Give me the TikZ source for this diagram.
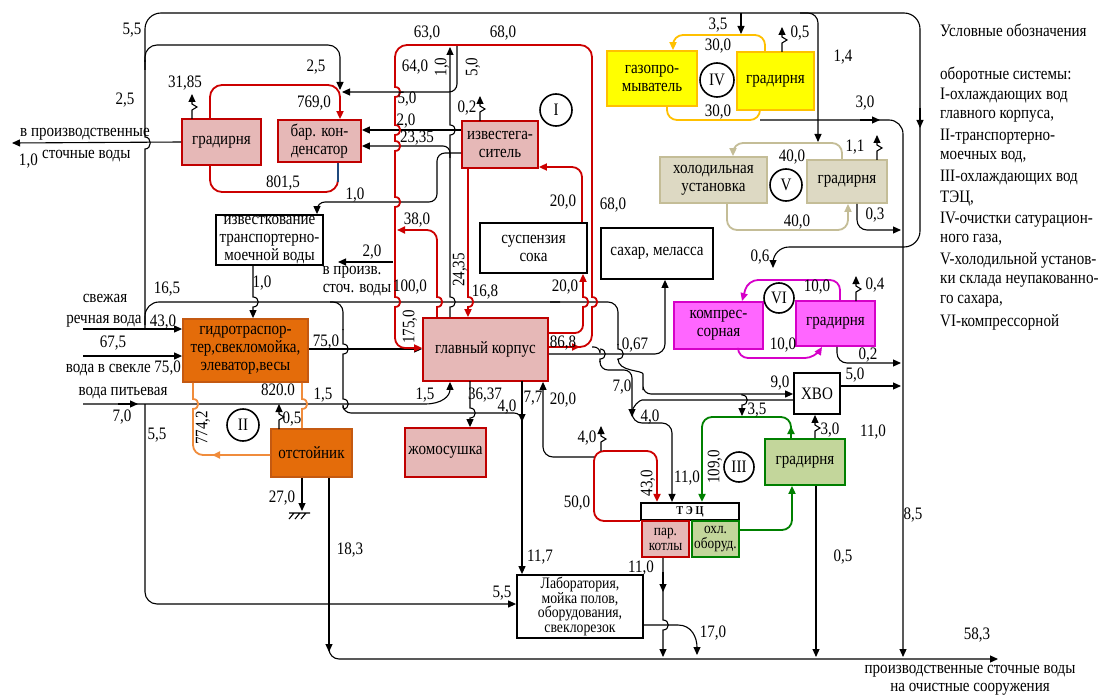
\documentclass[tikz,border=0pt]{standalone}
\usepackage{fontspec}
\setmainfont{Liberation Serif}[FakeStretch=0.86]
\usetikzlibrary{arrows.meta}
\definecolor{pinkF}{RGB}{230,184,183}
\definecolor{redB}{RGB}{192,0,0}
\definecolor{redL}{RGB}{204,0,0}
\definecolor{orF}{RGB}{228,108,10}
\definecolor{orB}{RGB}{196,89,17}
\definecolor{orL}{RGB}{240,140,60}
\definecolor{yelF}{RGB}{255,255,0}
\definecolor{yelB}{RGB}{255,192,0}
\definecolor{tanF}{RGB}{221,217,195}
\definecolor{tanB}{RGB}{196,189,151}
\definecolor{magF}{RGB}{255,102,255}
\definecolor{magB}{RGB}{214,0,200}
\definecolor{grnF}{RGB}{195,214,155}
\definecolor{grnB}{RGB}{0,128,0}
\definecolor{blueL}{RGB}{31,73,125}
\newcommand\hopd[2]{-- (#1,#2-5) .. controls (#1+7,#2-5) and (#1+7,#2+5) .. (#1,#2+5)}
\newcommand\hopu[2]{-- (#1,#2+5) .. controls (#1+7,#2+5) and (#1+7,#2-5) .. (#1,#2-5)}
\newcommand\evap[2]{\draw[ln,arr] (#1,#2) -- (#1,#2-9) -- (#1+5,#2-12) -- (#1,#2-15) -- (#1,#2-25);}
\tikzset{
 ln/.style={line width=1.1pt},
 arr/.style={-{Triangle[length=8pt,width=7pt]}},
 rl/.style={line width=1.8pt,draw=redL},
 ol/.style={line width=1.8pt,draw=orL},
 yl/.style={line width=1.8pt,draw=yelB},
 tl/.style={line width=1.8pt,draw=tanB},
 ml/.style={line width=1.8pt,draw=magB},
 gl/.style={line width=1.8pt,draw=grnB},
 bx/.style={draw,line width=1.8pt,align=center,inner sep=1pt},
 pk/.style={bx,fill=pinkF,draw=redB},
 ob/.style={bx,fill=orF,draw=orB},
 yb/.style={bx,fill=yelF,draw=yelB},
 tb/.style={bx,fill=tanF,draw=tanB},
 mb/.style={bx,fill=magF,draw=magB},
 gb/.style={bx,fill=grnF,draw=grnB},
 wb/.style={bx,fill=white,draw=black},
 cc/.style={circle,draw,line width=1.6pt,minimum size=32pt,inner sep=0pt,fill=white},
 lb/.style={inner sep=0pt},
 sz/.style 2 args={minimum width=#1pt,minimum height=#2pt},
}
\begin{document}
\begin{tikzpicture}[x=1pt,y=-1pt,font=\fontsize{17.5}{18}\selectfont]
\fill[white] (0,0) rectangle (1099,695);
\useasboundingbox (0,0) rectangle (1099,695);

% ---------- boxes ----------
\node[pk,sz={79}{46}] (grad1) at (221.5,142) {градирня};
\node[pk,sz={83}{42}] (kond) at (319.5,141) {бар. кон-\\денсатор};
\node[pk,sz={76}{47}] (izv) at (500,144.5) {известега-\\ситель};
\node[cc] (cI) at (556,110) {I};
\node[yb,sz={90}{55}] (gazo) at (652,78.5) {газопро-\\мыватель};
\node[cc,minimum size=34pt] (cIV) at (717,80) {IV};
\node[yb,sz={77}{58}] (grad4) at (775.5,81) {градирня};
\node[tb,sz={107}{46}] (hol) at (713.5,180) {холодильная\\установка};
\node[cc] (cV) at (786,185) {V};
\node[tb,sz={80}{43}] (grad5) at (847,181.5) {градирня};
\node[wb,sz={107}{50},inner sep=0pt] (izvk) at (269.5,240) {известкование\\транспортерно-\\моечной воды};
\node[wb,sz={107}{50}] (susp) at (533.5,248) {суспензия\\сока};
\node[wb,sz={112}{51}] (sakh) at (657,253.5) {сахар, меласса};
\node[mb,sz={89}{47}] (komp) at (718.5,325.5) {компрес-\\сорная};
\node[cc,minimum size=30pt] (cVI) at (779,298) {VI};
\node[mb,sz={79}{45}] (grad6) at (835.5,323.5) {градирня};
\node[ob,sz={125}{63},inner sep=0pt] (gidro) at (245.5,350.5) {гидротраспор-\\тер,свекломойка,\\элеватор,весы};
\node[pk,sz={125}{63}] (glav) at (485.5,349.5) {главный корпус};
\node[wb,sz={46}{41}] (hvo) at (817,393.5) {ХВО};
\node[cc] (cII) at (243,425) {II};
\node[ob,sz={81}{48}] (otst) at (311.5,453) {отстойник};
\node[pk,sz={81}{49}] (zhom) at (445.5,452.5) {жомосушка};
\node[gb,sz={80}{46}] (grad3) at (805,462) {градирня};
\node[cc,minimum size=30pt] (cIII) at (739,467) {III};
\node[wb,sz={98}{17},line width=2.2pt,inner sep=0pt,font=\bfseries\fontsize{12}{12}\selectfont] (tec) at (690,511.5) {Т Э Ц};
\node[pk,sz={47}{36},inner sep=0pt,font=\fontsize{15.5}{15}\selectfont] (kotly) at (665.5,539) {пар.\\котлы};
\node[gb,sz={47}{36},inner sep=0pt,font=\fontsize{15.5}{15}\selectfont] (ohl) at (715.5,539) {охл.\\оборуд.};
\node[wb,sz={126}{63},font=\fontsize{16}{14.8}\selectfont] (lab) at (580,606.5) {Лаборатория,\\мойка полов,\\оборудования,\\свеклорезок};

% ---------- top supply network ----------
\draw[ln,arr,rounded corners=16] (145,62) -- (145,13) -- (920,13) -- (920,247) -- (773,247) -- (773,268);
\draw[ln,arr] (920,108) -- (920,128);
\draw[ln,arr] (741,13) -- (741,34);
\draw[ln,arr,rounded corners=10] (800,13) -- (818,13) -- (818,142);
\draw[ln] (145,329) -- (145,149) .. controls (152,149) and (152,137) .. (145,137) -- (145,60);
\draw[ln,arr,rounded corners=12] (145,70) -- (145,45) -- (340,45) -- (340,90);

% 16,5 line
\draw[ln,rounded corners=14] (145,325) -- (145,302) -- (560,302);
\draw[ln,rounded corners=10] (550,302) -- (618,302) -- (618,345);
\draw[ln] (618,344) \hopd{618}{354} -- (618,360);
\draw[ln,arr,rounded corners=8] (618,359) .. controls (618,372) and (643,370) .. (643,382) -- (643,394) -- (hvo.west |- 0,394);

% 343 branch
\draw[ln,rounded corners=10] (330,302) -- (343,302) -- (343,330);
\draw[ln] (343,329) \hopd{343}{349} \hopd{343}{404};
\draw[ln,arr,rounded corners=8] (343,408) -- (343,413) -- (522,413) -- (522,422);
\draw[ln,arr] (470,381) \hopd{470}{413} -- (zhom.north -| 470,0);
\draw[ln,arr] (522,381) -- (lab.north -| 522,0);

% drinking water
\draw[ln,arr] (83,404) -- (425,404) .. controls (442,404) and (450,396) .. (glav.south -| 450,0);
\draw[ln,arr] (118,404) -- (138,404);
\draw[ln,arr,rounded corners=12] (145,404) -- (145,604) -- (lab.west |- 0,604);

% river water, beet water
\draw[ln,arr] (83,329) -- (gidro.west |- 0,329);
\draw[ln,arr] (83,356) -- (gidro.west |- 0,356);
\draw[ln,arr] (gidro.east |- 0,349) -- (glav.west |- 0,349);
\draw[ln,arr] (izvk.south -| 253,0) \hopd{253}{302} -- (gidro.north -| 253,0);

% orange loop II
\draw[ol,rounded corners=10] (otst.west |- 0,455) -- (193,455) -- (193,420);
\draw[ol] (193,421) \hopu{193}{404} -- (gidro.south -| 193,0);
\draw[ol,arr] (232,455) -- (212,455);
\draw[ol] (otst.north -| 302,0) \hopu{302}{404} -- (gidro.south -| 302,0);
\evap{279}{429}

% settler outlets
\draw[ln,arr] (otst.south -| 302,0) -- (302,511);
\draw[ln] (289,513) -- (310,513) (294,513) -- (289,519) (300,513) -- (295,519) (306,513) -- (301,519);
\draw[ln,arr] (otst.south -| 329,0) -- (329,652);
\draw[ln,arr,rounded corners=10] (329,645) -- (329,659) -- (998,659);

% cooling tower I & condenser
\draw[ln,arr] (grad1.west) -- (12,143);
\evap{192}{119}
\draw[rl,arr,rounded corners=12] (210,119) -- (210,85) -- (340,85) -- (kond.north -| 340,0);
\draw[rl,rounded corners=12] (210,165) -- (210,192) -- (338,192) -- (338,182);
\draw[line width=1.8pt,draw=blueL] (338,163) -- (338,182);
\draw[ln,arr,rounded corners=8] (457,45) -- (457,92) -- (342,92);
\draw[ln,arr] (izv.west |- 0,130) -- (kond.east |- 0,130);
\draw[ln,arr] (glav.north -| 450,0) \hopu{450}{302} \hopu{450}{130} -- (450,47);
\draw[ln,arr,rounded corners=7] (450,158) -- (450,146) -- (kond.east |- 0,146);
\draw[ln,arr,rounded corners=8] (izv.west |- 0,153) -- (437,153) -- (437,202) -- (317,202) -- (izvk.north -| 317,0);
\draw[ln,arr] (393,262) -- (338,262);

% red loop I
\draw[rl,arr] (glav.east |- 0,347) -- (580,347);
\draw[rl,rounded corners=12] (576,347) -- (592,347) -- (592,310);
\draw[rl] (592,311) \hopu{592}{302} -- (592,290);
\draw[rl,rounded corners=12] (592,292) -- (592,45) -- (395,45) -- (395,80);
\draw[rl] (395,79) \hopd{395}{92} \hopd{395}{130} \hopd{395}{146} \hopd{395}{202} \hopd{395}{302} -- (395,320);
\draw[rl,arr,rounded corners=10] (395,318) -- (395,348) -- (glav.west |- 0,348);
\draw[rl] (glav.north -| 437,0) \hopu{437}{302} -- (437,290);
\draw[rl,arr,rounded corners=10] (437,292) -- (437,230) -- (397,230);
\draw[rl,arr] (izv.south -| 468,0) \hopd{468}{302} -- (glav.north -| 468,0);
\draw[rl,rounded corners=8] (glav.east |- 0,333) -- (583,333) -- (583,315);
\draw[rl,arr] (583,316) \hopu{583}{302} -- (susp.south -| 583,0);
\draw[rl,arr,rounded corners=10] (susp.north -| 582,0) -- (582,167) -- (izv.east |- 0,167);
\evap{480}{121}

% main building outlets
\draw[ln,arr,rounded corners=10] (glav.east |- 0,354) -- (665,354) -- (sakh.south -| 665,0);
\draw[ln,rounded corners=6] (592,347) -- (600,347) -- (600,350);
\draw[ln] (600,349) \hopd{600}{354} -- (600,362);
\draw[ln,arr,rounded corners=8] (600,361) -- (600,370) -- (632,370) -- (632,417);
\draw[ln,rounded corners=8] (hvo.west |- 0,400) -- (650,400) .. controls (640,400) and (632,406) .. (632,413);
\draw[ln,arr,rounded corners=10] (632,415) -- (632,423) -- (672,423) -- (tec.north -| 672,0);
\draw[ln,arr] (742,394) \hopd{742}{400} -- (742,416);

% green loop III
\draw[gl,rounded corners=10] (791,430) -- (791,417) -- (702,417) -- (702,490);
\draw[gl,arr] (702,480) -- (tec.north -| 702,0);
\draw[gl,arr] (grad3.north -| 791,0) -- (791,426);
\draw[gl,arr,rounded corners=10] (ohl.east |- 0,530) -- (792,530) -- (grad3.south -| 792,0);
\draw[ln,arr] (grad3.north -| 815,0) -- (815,431) -- (820,428) -- (815,425) -- (hvo.south -| 815,0);
\draw[ln,arr] (grad3.south -| 816,0) -- (816,657);
\draw[ln,arr] (hvo.east |- 0,386) -- (901,386);

% TEC red loop
\draw[rl,arr,rounded corners=10] (tec.west |- 0,521) -- (594,521) -- (594,451) -- (657,451) -- (tec.north -| 657,0);
\evap{601}{451}
\draw[ln,arr,rounded corners=10] (594,457) -- (543,457) -- (glav.south -| 543,0);
\draw[ln,arr] (kotly.south -| 663,0) \hopd{663}{625} -- (663,657);
\draw[ln,arr] (663,572) -- (663,592);
\draw[ln,arr] (lab.east |- 0,625) -- (678,625) .. controls (692,625) and (697,638) .. (697,655);

% right collector
\draw[ln,arr,rounded corners=14] (760,120) -- (903,120) -- (903,657);
\draw[ln,arr] (860,120) -- (880,120);

% tan loop V
\draw[tl,arr,rounded corners=10] (grad5.north -| 842,0) -- (842,143) -- (733,143) -- (hol.north -| 733,0);
\draw[tl,arr,rounded corners=10] (hol.south -| 727,0) -- (727,230) -- (848,230) -- (grad5.south -| 848,0);
\evap{877}{160}
\draw[ln,arr,rounded corners=10] (grad5.south -| 857,0) -- (857,230) -- (901,230);

% yellow loop IV
\draw[yl,arr,rounded corners=10] (grad4.north -| 765,0) -- (765,35) -- (673,35) -- (gazo.north -| 673,0);
\draw[yl,rounded corners=10] (gazo.south -| 667,0) -- (667,120) -- (760,120) -- (grad4.south -| 760,0);
\evap{782}{52}

% magenta loop VI
\draw[ml,arr,rounded corners=10] (grad6.north -| 840,0) -- (840,280) -- (748,280) -- (komp.north -| 742,0);
\draw[ml,arr,rounded corners=10] (komp.south -| 738,0) -- (738,358) -- (815,358) -- (grad6.south -| 822,0);
\evap{856}{301}
\draw[ln,arr,rounded corners=10] (grad6.south -| 837,0) -- (837,363) -- (901,363);

% ---------- labels ----------
\foreach \x/\y/\t [count=\i] in {
185/83/{31,85}, 125/100/{2,5}, 132/30/{5,5}, 316/67/{2,5}, 314/103/{769,0}, 283/183/{801,5},
407/99/{5,0}, 406/121/{2,0}, 417/138/{23,35}, 415/67/{64,0}, 427/33/{63,0}, 503/33/{68,0},
467/108/{0,2}, 563/202/{20,0}, 613/205/{68,0}, 417/220/{38,0}, 355/195/{1,0}, 372/252/{2,0},
410/287/{100,0}, 485/292/{16,8}, 565/287/{20,0}, 563/343/{86,8}, 635/345/{0,67}, 622/387/{7,0},
650/417/{4,0}, 485/395/{36,37}, 507/407/{4,0}, 533/398/{7,7}, 563/400/{20,0}, 587/438/{4,0},
577/503/{50,0}, 687/478/{11,0}, 641/568/{11,0}, 540/557/{11,7}, 502/593/{5,5}, 713/633/{17,0},
350/550/{18,3}, 282/498/{27,0}, 843/557/{0,5}, 913/515/{8,5}, 977/635/{58,3}, 873/432/{11,0},
830/430/{3,0}, 757/410/{3,5}, 780/383/{9,0}, 855/375/{5,0}, 868/355/{0,2}, 783/345/{10,0},
817/287/{10,0}, 875/285/{0,4}, 760/257/{0,6}, 875/215/{0,3}, 797/222/{40,0}, 792/157/{40,0},
855/147/{1,1}, 865/103/{3,0}, 843/57/{1,4}, 800/33/{0,5}, 718/25/{3,5}, 718/46/{30,0}, 718/112/{30,0},
167/289/{16,5}, 163/322/{43,0}, 113/343/{67,5}, 122/417/{7,0}, 157/435/{5,5}, 326/342/{75,0},
323/395/{1,5}, 425/395/{1,5}, 278/390/{820.0}, 292/419/{0,5}, 262/283/{1,0}}
 \node[lb] (n\i) at (\x,\y) {\t};

\node[lb,anchor=east] (n0) at (38,161) {1,0};
\node[lb,rotate=90] (r1) at (442,67) {1,0};
\node[lb,rotate=90] (r2) at (473,67) {5,0};
\node[lb,rotate=90] (r3) at (460,270) {24,35};
\node[lb,rotate=90] (r4) at (410,327) {175,0};
\node[lb,rotate=90] (r5) at (648,483) {43,0};
\node[lb,rotate=90] (r6) at (715,467) {109,0};
\node[lb,rotate=90] (r7) at (203,428) {774,2};

\node[lb,anchor=west] (t1) at (20,134) {в производственные};
\node[lb,anchor=west] (t2) at (42,156) {сточные воды};
\node[lb] (t3) at (352,272) {в произв.};
\node[lb] (t4) at (357,290) {сточ. воды};
\node[lb] (t5) at (970,671) {производственные сточные воды};
\node[lb] (t6) at (970,689) {на очистные сооружения};
\node[lb] (t7) at (105,298) {свежая};
\node[lb] (t8) at (104,321) {речная вода};
\node[lb,anchor=east] (t9) at (181,368) {вода в свекле 75,0};
\node[lb] (t10) at (123,393) {вода питьевая};

% legend
\node[lb,anchor=west] (lg0) at (940,30) {Условные обозначения};
\foreach \t [count=\i] in {{оборотные системы:},{I-охлаждающих вод},{главного корпуса,},{II-транспортерно-},{моечных вод,},{III-охлаждающих вод},{ТЭЦ,},{IV-очистки сатурацион-},{ного газа,},{V-холодильной установ-},{ки склада неупакованно-},{го сахара,},{VI-компрессорной}}
 \node[lb,anchor=west] (lg\i) at (940,{75+20.6*(\i-1)}) {\t};
\end{tikzpicture}
\end{document}
